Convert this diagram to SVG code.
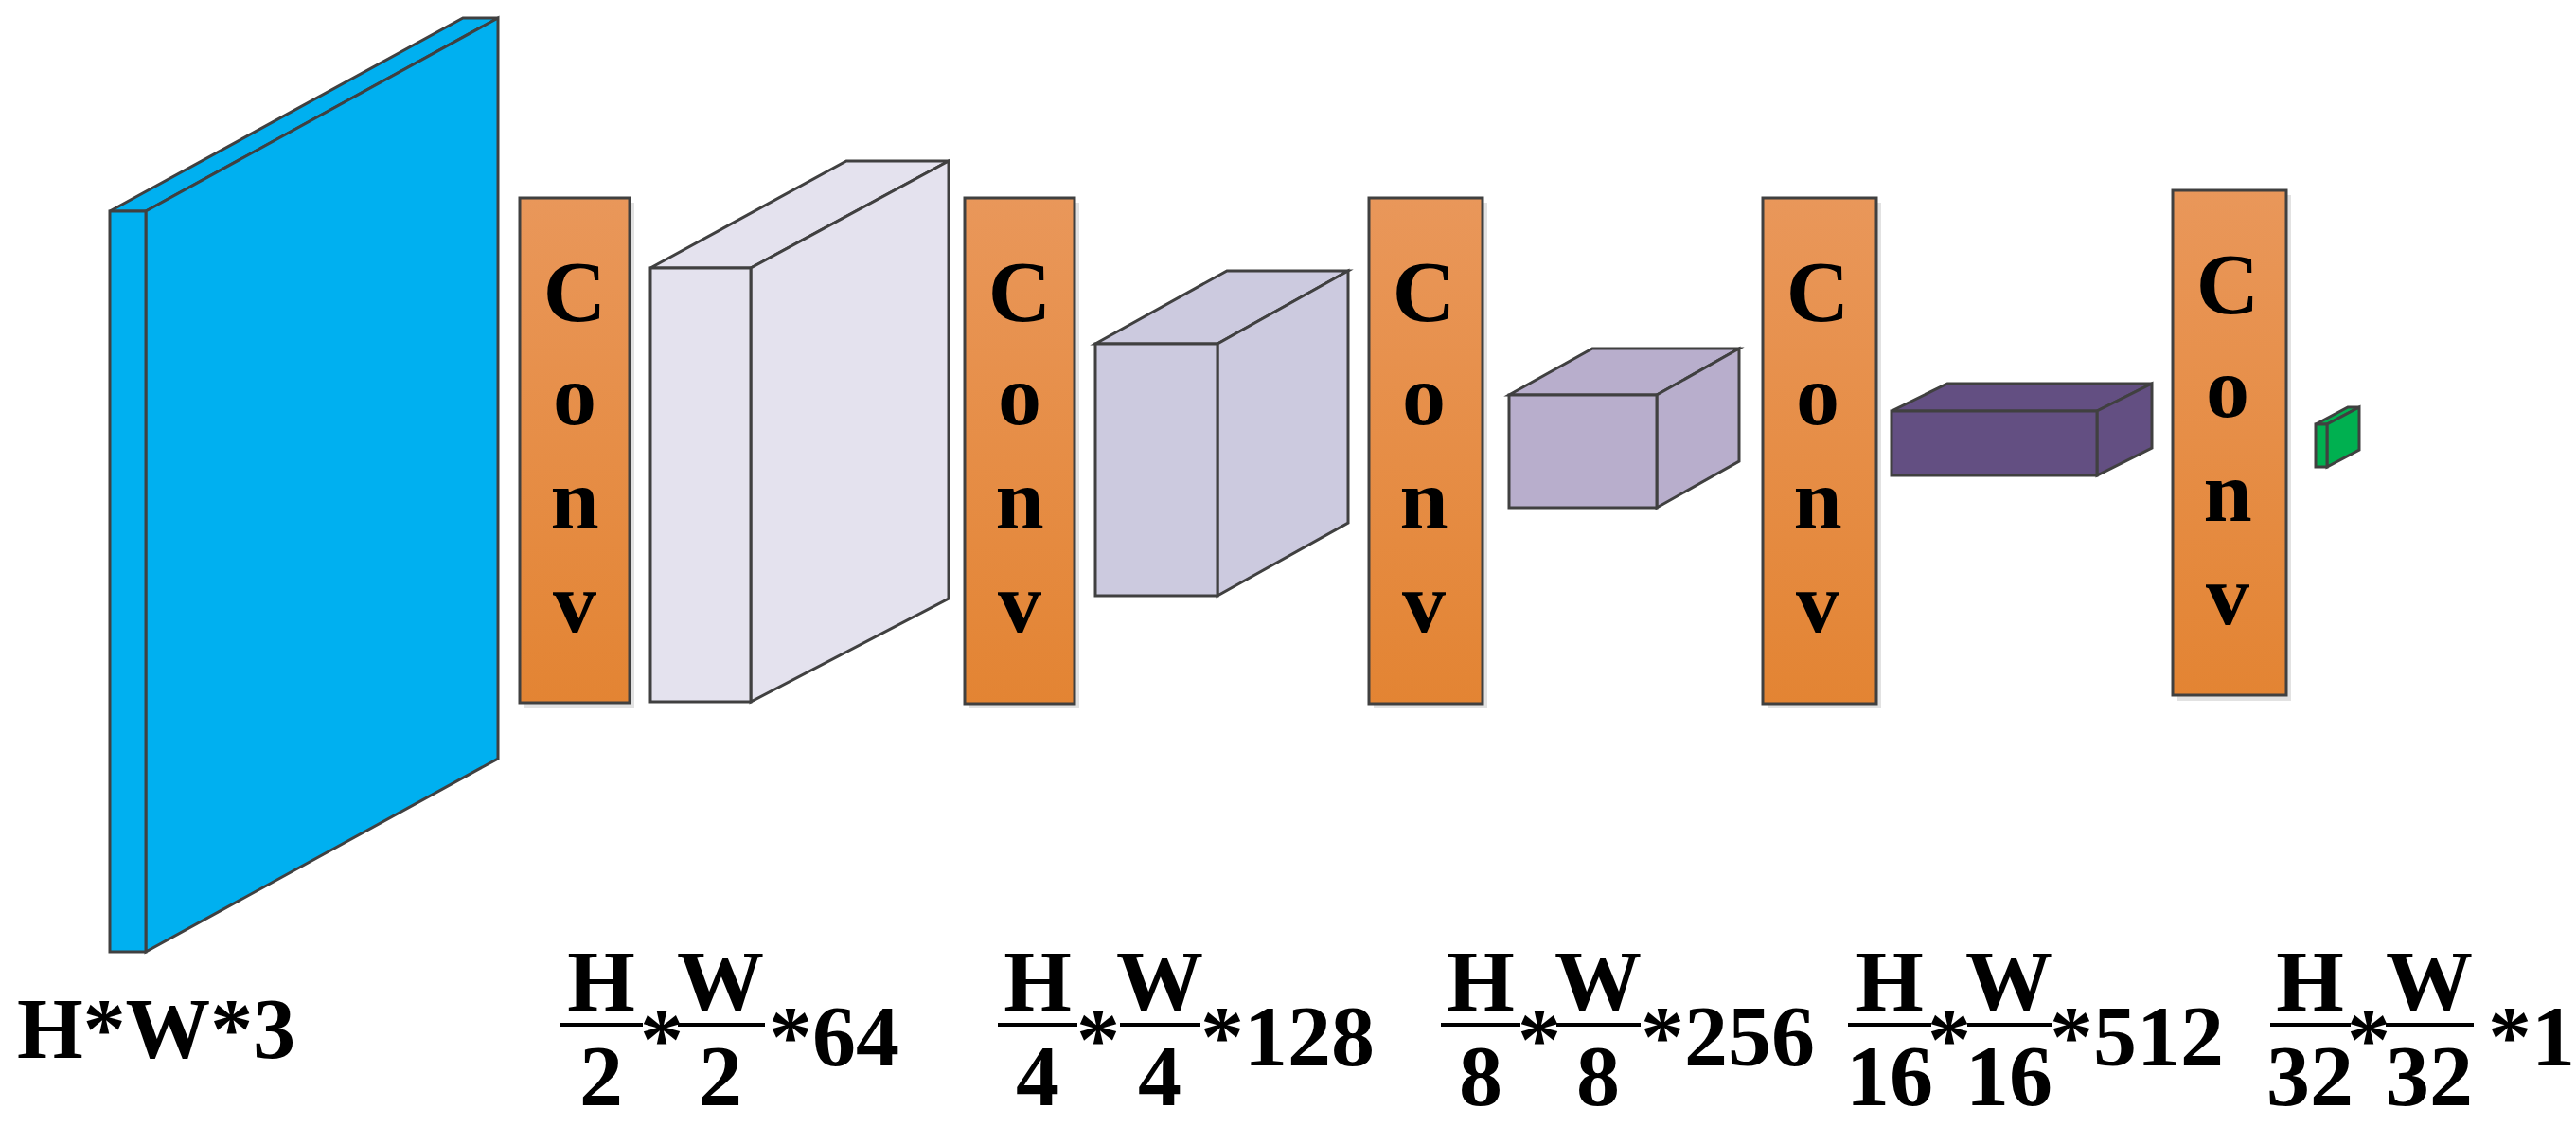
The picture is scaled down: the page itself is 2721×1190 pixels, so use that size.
<svg xmlns="http://www.w3.org/2000/svg" width="2721" height="1190" viewBox="0 0 2721 1190">
<style>
.e{stroke:#404040;stroke-width:3;stroke-linejoin:miter}
.t{font-family:"Liberation Serif","Times New Roman",serif;font-weight:bold;fill:#000}
.c{font-size:92px;text-anchor:middle}
.l{font-size:92px}
.f{stroke:#000;stroke-width:4}
.sh{fill:#e2e2e2}
</style>
<defs>
<linearGradient id="og" x1="0" y1="0" x2="0" y2="1">
<stop offset="0" stop-color="#e9975a"/><stop offset="1" stop-color="#e38433"/>
</linearGradient>
</defs>
<rect width="2721" height="1190" fill="#fff"/>
<g id="input">
<polygon class="e" fill="#00b0f0" points="116,223 489,19 526,19 154,223"/>
<polygon class="e" fill="#00b0f0" points="154,223 526,19 526,801 154,1005"/>
<rect class="e" fill="#00b0f0" x="116" y="223" width="38" height="782"/>
</g>
<g id="conv1"><rect class="sh" x="554" y="214" width="116" height="534"/><rect class="e" fill="url(#og)" x="549" y="209" width="116" height="533"/>
<text class="t c" x="607"><tspan x="607" y="339">C</tspan><tspan x="607" y="448">o</tspan><tspan x="607" y="558">n</tspan><tspan x="607" y="667">v</tspan></text></g>
<g id="fm1">
<polygon class="e" fill="#e4e2ee" points="687,283 894,170 1002,170 793,283"/>
<polygon class="e" fill="#e4e2ee" points="793,283 1002,170 1002,632 793,741"/>
<rect class="e" fill="#e4e2ee" x="687" y="283" width="106" height="458"/>
</g>
<g id="conv2"><rect class="sh" x="1024" y="214" width="116" height="534"/><rect class="e" fill="url(#og)" x="1019" y="209" width="116" height="534"/>
<text class="t c"><tspan x="1077" y="339">C</tspan><tspan x="1077" y="448">o</tspan><tspan x="1077" y="558">n</tspan><tspan x="1077" y="667">v</tspan></text></g>
<g id="fm2">
<polygon class="e" fill="#cccadf" points="1157,363 1296,286 1424,286 1286,363"/>
<polygon class="e" fill="#cccadf" points="1286,363 1424,286 1424,552 1286,629"/>
<rect class="e" fill="#cccadf" x="1157" y="363" width="129" height="266"/>
</g>
<g id="conv3"><rect class="sh" x="1451" y="214" width="120" height="534"/><rect class="e" fill="url(#og)" x="1446" y="209" width="120" height="534"/>
<text class="t c"><tspan x="1504" y="339">C</tspan><tspan x="1504" y="448">o</tspan><tspan x="1504" y="558">n</tspan><tspan x="1504" y="667">v</tspan></text></g>
<g id="fm3">
<polygon class="e" fill="#b8aecc" points="1594,417 1682,368 1837,368 1750,417"/>
<polygon class="e" fill="#b8aecc" points="1750,417 1837,368 1837,487 1750,536"/>
<rect class="e" fill="#b8aecc" x="1594" y="417" width="156" height="119"/>
</g>
<g id="conv4"><rect class="sh" x="1867" y="214" width="120" height="534"/><rect class="e" fill="url(#og)" x="1862" y="209" width="120" height="534"/>
<text class="t c"><tspan x="1920" y="339">C</tspan><tspan x="1920" y="448">o</tspan><tspan x="1920" y="558">n</tspan><tspan x="1920" y="667">v</tspan></text></g>
<g id="fm4">
<polygon class="e" fill="#634f82" points="1998,434 2057,405 2273,405 2215,434"/>
<polygon class="e" fill="#634f82" points="2215,434 2273,405 2273,473 2215,502"/>
<rect class="e" fill="#634f82" x="1998" y="434" width="217" height="68"/>
</g>
<g id="conv5"><rect class="sh" x="2300" y="206" width="120" height="534"/><rect class="e" fill="url(#og)" x="2295" y="201" width="120" height="533"/>
<text class="t c"><tspan x="2353" y="331">C</tspan><tspan x="2353" y="440">o</tspan><tspan x="2353" y="550">n</tspan><tspan x="2353" y="659">v</tspan></text></g>
<g id="out">
<polygon class="e" fill="#00b050" points="2446,448 2480,430 2492,430 2458,448"/>
<polygon class="e" fill="#00b050" points="2458,448 2492,430 2492,475 2458,493"/>
<rect class="e" fill="#00b050" x="2446" y="448" width="12" height="45"/>
</g>
<g id="labels">
<text class="t l" x="18" y="1117" textLength="294" lengthAdjust="spacingAndGlyphs">H*W*3</text>

<text class="t l" x="635" y="1067" text-anchor="middle">H</text>
<line class="f" x1="591" y1="1082" x2="679" y2="1082"/>
<text class="t l" x="635" y="1167" text-anchor="middle">2</text>
<text class="t l" x="699" y="1128" text-anchor="middle">*</text>
<text class="t l" x="761" y="1067" text-anchor="middle">W</text>
<line class="f" x1="716" y1="1082" x2="808" y2="1082"/>
<text class="t l" x="761" y="1167" text-anchor="middle">2</text>
<text class="t l" x="812" y="1125">*64</text>

<text class="t l" x="1096" y="1067" text-anchor="middle">H</text>
<line class="f" x1="1054" y1="1082" x2="1138" y2="1082"/>
<text class="t l" x="1096" y="1167" text-anchor="middle">4</text>
<text class="t l" x="1160" y="1128" text-anchor="middle">*</text>
<text class="t l" x="1225" y="1067" text-anchor="middle">W</text>
<line class="f" x1="1183" y1="1082" x2="1268" y2="1082"/>
<text class="t l" x="1225" y="1167" text-anchor="middle">4</text>
<text class="t l" x="1268" y="1125">*128</text>

<text class="t l" x="1564" y="1067" text-anchor="middle">H</text>
<line class="f" x1="1522" y1="1082" x2="1606" y2="1082"/>
<text class="t l" x="1564" y="1167" text-anchor="middle">8</text>
<text class="t l" x="1626" y="1128" text-anchor="middle">*</text>
<text class="t l" x="1688" y="1067" text-anchor="middle">W</text>
<line class="f" x1="1644" y1="1082" x2="1733" y2="1082"/>
<text class="t l" x="1688" y="1167" text-anchor="middle">8</text>
<text class="t l" x="1733" y="1125">*256</text>

<text class="t l" x="1996" y="1067" text-anchor="middle">H</text>
<line class="f" x1="1952" y1="1082" x2="2040" y2="1082"/>
<text class="t l" x="1996" y="1167" text-anchor="middle">16</text>
<text class="t l" x="2059" y="1128" text-anchor="middle">*</text>
<text class="t l" x="2122" y="1067" text-anchor="middle">W</text>
<line class="f" x1="2078" y1="1082" x2="2167" y2="1082"/>
<text class="t l" x="2122" y="1167" text-anchor="middle">16</text>
<text class="t l" x="2165" y="1125">*512</text>

<text class="t l" x="2440" y="1067" text-anchor="middle">H</text>
<line class="f" x1="2398" y1="1082" x2="2483" y2="1082"/>
<text class="t l" x="2440" y="1167" text-anchor="middle">32</text>
<text class="t l" x="2502" y="1128" text-anchor="middle">*</text>
<text class="t l" x="2566" y="1067" text-anchor="middle">W</text>
<line class="f" x1="2520" y1="1082" x2="2613" y2="1082"/>
<text class="t l" x="2566" y="1167" text-anchor="middle">32</text>
<text class="t l" x="2628" y="1125">*1</text>
</g>
</svg>
